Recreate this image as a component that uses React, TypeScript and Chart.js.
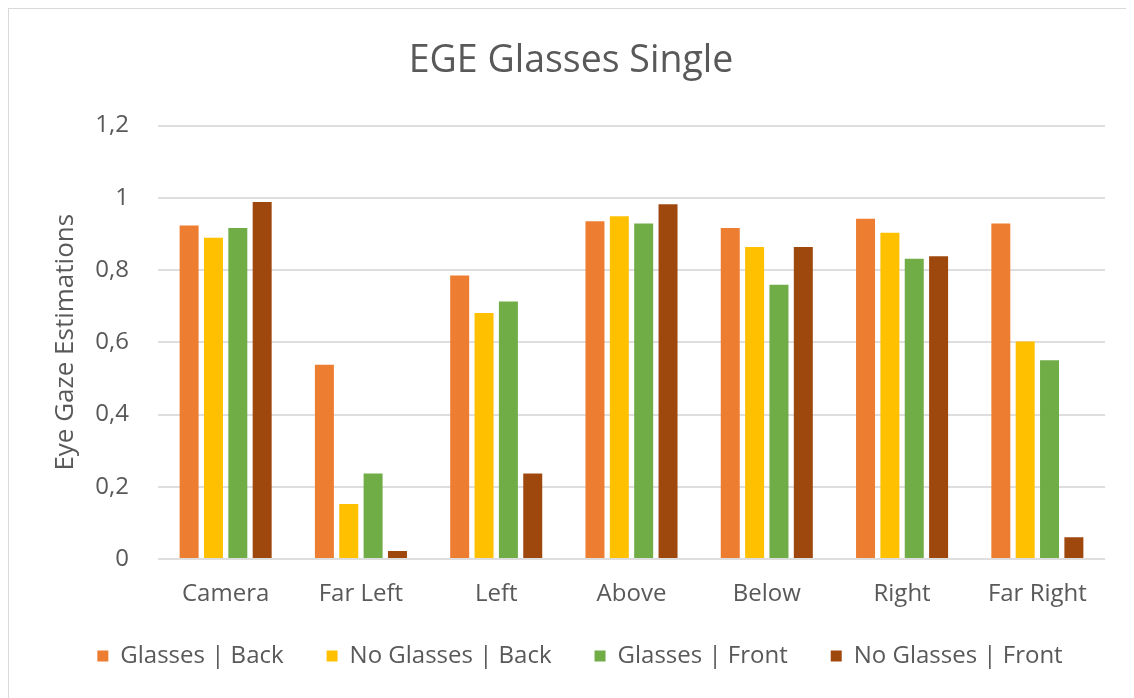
import React, { useEffect, useRef } from 'react';
import { Chart, registerables } from 'chart.js';

Chart.register(...registerables);

const categories = ['Camera', 'Far Left', 'Left', 'Above', 'Below', 'Right', 'Far Right'];
const seriesNames = ['Glasses | Back', 'No Glasses | Back', 'Glasses | Front', 'No Glasses | Front'];
const glassesBack = [0.923, 0.538, 0.785, 0.935, 0.916, 0.942, 0.929];
const noGlassesBack = [0.889, 0.152, 0.681, 0.949, 0.864, 0.903, 0.602];
const glassesFront = [0.916, 0.237, 0.713, 0.929, 0.759, 0.831, 0.55];
const noGlassesFront = [0.988, 0.022, 0.237, 0.982, 0.864, 0.838, 0.06];
const yTickLabels = ['0', '0,2', '0,4', '0,6', '0,8', '1', '1,2'];
const seriesColors = ['#ED7D31', '#FFC000', '#70AD47', '#9E480E'];

const FONT = "'Open Sans', sans-serif";
const TEXT = '#595959';

const legendShift = {
  id: 'legendShift',
  afterLayout(chart: any) {
    const lg = chart.legend;
    if (!lg) return;
    lg.left += 9;
    lg.right += 9;
    lg.top -= 18;
    lg.bottom -= 18;
  },
};

export default function App() {
  const ref = useRef<HTMLCanvasElement | null>(null);

  useEffect(() => {
    if (!ref.current) return;
    const values = [glassesBack, noGlassesBack, glassesFront, noGlassesFront];
    const chart = new Chart(ref.current, {
      type: 'bar',
      data: {
        labels: categories,
        datasets: values.map((v, i) => ({
          label: seriesNames[i],
          data: v,
          backgroundColor: seriesColors[i],
          borderWidth: 0,
          categoryPercentage: 0.72,
          barPercentage: 0.78,
          yAxisID: 'y',
        })),
      },
      plugins: [legendShift],
      options: {
        responsive: false,
        animation: false,
        layout: { padding: { left: 0, right: 0, top: 0, bottom: 1 } },
        plugins: {
          title: {
            display: true,
            text: 'EGE Glasses Single',
            color: TEXT,
            font: { family: FONT, size: 37.5, weight: 'normal' },
            padding: { top: 30, bottom: 41.5 },
          },
          legend: {
            position: 'bottom',
            labels: {
              color: TEXT,
              font: { family: FONT, size: 24 },
              boxWidth: 11,
              boxHeight: 11,
              padding: 43,
            },
          },
          tooltip: { enabled: false },
        },
        scales: {
          x: {
            grid: { display: false, drawTicks: false },
            border: { display: false },
            ticks: { color: TEXT, font: { family: FONT, size: 24 }, padding: 20.6 },
            afterFit: (s: any) => { s.height = 60; },
          },
          y: {
            min: 0,
            max: 1.2,
            ticks: {
              stepSize: 0.2,
              color: TEXT,
              font: { family: FONT, size: 24 },
              padding: 29,
              callback: (_v: any, i: number) => yTickLabels[i],
            },
            grid: { color: '#dedede', lineWidth: 2, drawTicks: false },
            border: { display: false },
            title: {
              display: true,
              text: 'Eye Gaze Estimations',
              color: TEXT,
              font: { family: FONT, size: 26 },
              padding: { top: 41.4, bottom: 0 },
            },
            afterFit: (s: any) => { s.width = 149; },
          },
          yRight: {
            position: 'right',
            display: true,
            grid: { display: false, drawTicks: false },
            border: { display: false },
            ticks: { display: false },
            afterFit: (s: any) => { s.width = 28; },
          },
        },
      },
    });
    return () => chart.destroy();
  }, []);

  return (
    <div style={{ position: 'relative', width: 1126, height: 690, overflow: 'hidden' }}>
      <div
        style={{
          position: 'absolute',
          left: 0,
          top: 0,
          width: 1200,
          height: 800,
          border: '1px solid #d9d9d9',
          boxSizing: 'border-box',
        }}
      />
      <canvas
        ref={ref}
        width={1124}
        height={688}
        style={{ position: 'absolute', left: 1, top: 1, width: 1124, height: 688, display: 'block' }}
      />
    </div>
  );
}
